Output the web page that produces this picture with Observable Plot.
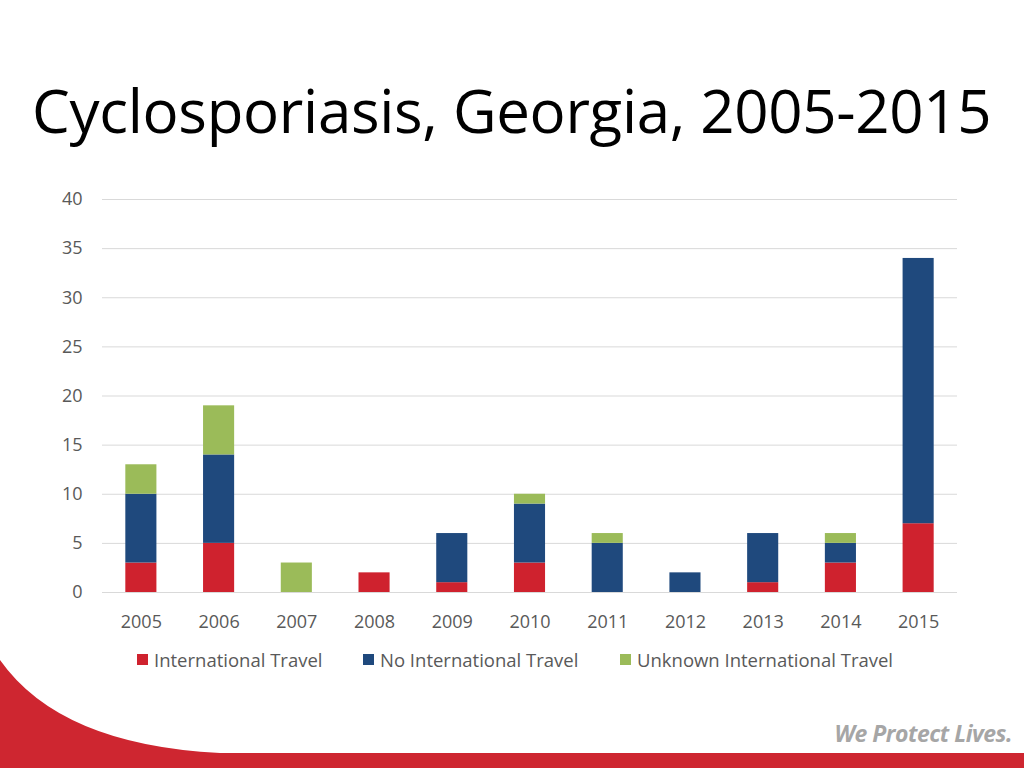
<!DOCTYPE html>
<html>
<head>
<meta charset="utf-8">
<script src="https://cdn.jsdelivr.net/npm/d3@7"></script>
<script src="https://cdn.jsdelivr.net/npm/@observablehq/plot@0.6"></script>
<style>
  html, body { margin: 0; padding: 0; background: #fff; }
  body { width: 1024px; height: 768px; position: relative; overflow: hidden; font-family: "Open Sans", "Noto Sans", sans-serif; }
  #title { position: absolute; left: 32px; top: 80px; font-size: 60px; color: #000; white-space: nowrap; line-height: 1; letter-spacing: -0.3px; }
  #chart { position: absolute; left: 0; top: 185px; }
  #legend { position: absolute; top: 647px; left: 0; width: 1024px; font-size: 18.5px; color: #595959; }
  .item { position: absolute; white-space: nowrap; display: flex; align-items: center; }
  .sw { width: 11px; height: 11px; display: inline-block; margin-right: 6px; }
  #deco { position: absolute; left: 0; top: 0; }
  #slogan { position: absolute; right: 12px; top: 717px; font-size: 23px; font-weight: bold; font-style: italic; color: #A6A6A6; letter-spacing: -0.5px; }
</style>
</head>
<body>
<div id="title">Cyclosporiasis, Georgia, 2005-2015</div>
<div id="chart"></div>
<div id="legend"></div>
<svg id="deco" width="1024" height="768">
  <path d="M0,660 Q60,745 220,753 L1024,753 L1024,768 L0,768 Z" fill="#CE2630"/>
</svg>
<div id="slogan">We Protect Lives.</div>
<script>
const years = ["2005","2006","2007","2008","2009","2010","2011","2012","2013","2014","2015"];
const categories = ["International Travel", "No International Travel", "Unknown International Travel"];
const colors = ["#CF222E", "#1F497D", "#9BBB59"];
const internationalTravel = [3, 5, 0, 2, 1, 3, 0, 0, 1, 3, 7];
const noInternationalTravel = [7, 9, 0, 0, 5, 6, 5, 2, 5, 2, 27];
const unknownTravel = [3, 5, 3, 0, 0, 1, 1, 0, 0, 1, 0];
const yTicks = [0, 5, 10, 15, 20, 25, 30, 35, 40];

const series = [internationalTravel, noInternationalTravel, unknownTravel];
const data = [];
categories.forEach((c, ci) => {
  years.forEach((y, yi) => data.push({year: y, category: c, value: series[ci][yi]}));
});

const chart = Plot.plot({
  width: 1024,
  height: 460,
  marginLeft: 102,
  marginRight: 67,
  marginTop: 14,
  marginBottom: 53,
  style: {fontFamily: "'Open Sans', 'Noto Sans', sans-serif", fontSize: "18px", color: "#595959", background: "transparent"},
  x: {domain: years, paddingInner: 0.6, paddingOuter: 0.3, round: false, label: null},
  y: {domain: [0, 40], ticks: yTicks, label: null},
  color: {domain: categories, range: colors},
  marks: [
    Plot.gridY(yTicks, {stroke: "#D9D9D9", strokeOpacity: 1, strokeWidth: 1}),
    Plot.barY(data, {x: "year", y: "value", fill: "category", order: categories}),
    Plot.axisX({tickSize: 0, tickPadding: 23, fontSize: 18, fill: "#595959", label: null}),
    Plot.axisY({ticks: yTicks, tickSize: 0, tickPadding: 20, fontSize: 18, fill: "#595959", label: null})
  ]
});
document.getElementById("chart").appendChild(chart);

const legend = document.getElementById("legend");
const lefts = [137, 363, 620];
categories.forEach((c, i) => {
  const d = document.createElement("div");
  d.className = "item";
  d.style.left = lefts[i] + "px";
  d.innerHTML = `<span class="sw" style="background:${colors[i]}"></span>${c}`;
  legend.appendChild(d);
});
</script>
</body>
</html>
